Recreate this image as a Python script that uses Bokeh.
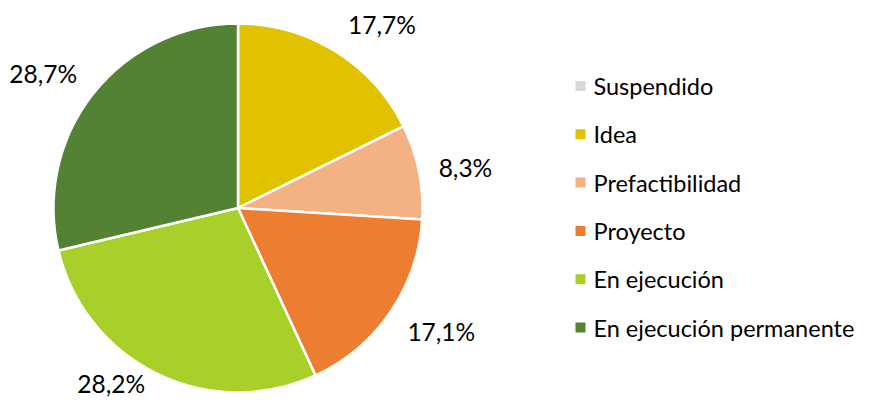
import math
from bokeh.plotting import figure
from bokeh.models import Range1d, ColumnDataSource
from bokeh.core.properties import value
from bokeh.embed import file_html
from bokeh.resources import INLINE

# ---- data ----
categories = ["Suspendido", "Idea", "Prefactibilidad", "Proyecto",
              "En ejecución", "En ejecución permanente"]
percentages = [0.0, 17.7, 8.3, 17.1, 28.2, 28.7]
colors = ["#D9D9D9", "#E0C200", "#F4B183", "#ED7D31", "#A9D02A", "#548235"]

# ---- style / layout ----
W, H = 858, 399
FONT = "Lato"
FS_LABEL = "24.5px"
FS_LEG = "23.5px"
CX, CY = 237.5, 415 - 207.5     # pie centre (data units = px, y up)
R = 184.5
LABEL_R = 233
label_nudge = {"Idea": (21, 14), "Prefactibilidad": (-1, 5), "Proyecto": (11, -8),
               "En ejecución": (-25, -34), "En ejecución permanente": (-12, 10)}

p = figure(width=W, height=H, output_backend="svg", toolbar_location=None,
           x_range=Range1d(0, W), y_range=Range1d(415 - H, 415),
           min_border=0)
p.axis.visible = False
p.grid.visible = False
p.outline_line_color = None
p.background_fill_color = "white"
p.border_fill_color = "white"

total = sum(percentages)
starts, ends, cols = [], [], []
lx, ly, ltxt, xo, yo = [], [], [], [], []
cum = 0.0
for cat, v, c in zip(categories, percentages, colors):
    a0 = math.pi / 2 - cum / total * 2 * math.pi
    cum += v
    a1 = math.pi / 2 - cum / total * 2 * math.pi
    if v <= 0:
        continue
    starts.append(a0)
    ends.append(a1)
    cols.append(c)
    m = (a0 + a1) / 2
    lx.append(CX + LABEL_R * math.cos(m))
    ly.append(CY + LABEL_R * math.sin(m))
    ltxt.append(f"{v:.1f}%".replace(".", ","))
    dx, dy = label_nudge.get(cat, (0, 0))
    xo.append(dx)
    yo.append(dy)

src = ColumnDataSource(dict(s=starts, e=ends, c=cols))
p.wedge(x=CX, y=CY, radius=R, start_angle="s", end_angle="e", direction="clock",
        fill_color="c", line_color="white", line_width=2.5, source=src)

lsrc = ColumnDataSource(dict(x=lx, y=ly, t=ltxt, xo=xo, yo=yo))
p.text(x="x", y="y", text="t", x_offset="xo", y_offset="yo", source=lsrc,
       text_font=value(FONT), text_font_size=FS_LABEL, text_color="#000000",
       text_align="center", text_baseline="middle")

# ---- legend ----
LEG_X, LEG_Y0, LEG_STEP = 580, 415 - 85.5, 48.3
leg_y = [LEG_Y0 - i * LEG_STEP for i in range(len(categories))]
legsrc = ColumnDataSource(dict(x=[LEG_X] * len(categories), y=leg_y,
                               tx=[LEG_X + 13] * len(categories),
                               t=categories, c=colors))
p.scatter(x="x", y="y", marker="square", size=10, fill_color="c",
          line_color=None, source=legsrc)
p.text(x="tx", y="y", text="t", source=legsrc, text_font=value(FONT),
       text_font_size=FS_LEG, text_color="#000000", text_align="left",
       text_baseline="middle")

open("out.html", "w").write(file_html(p, INLINE))
